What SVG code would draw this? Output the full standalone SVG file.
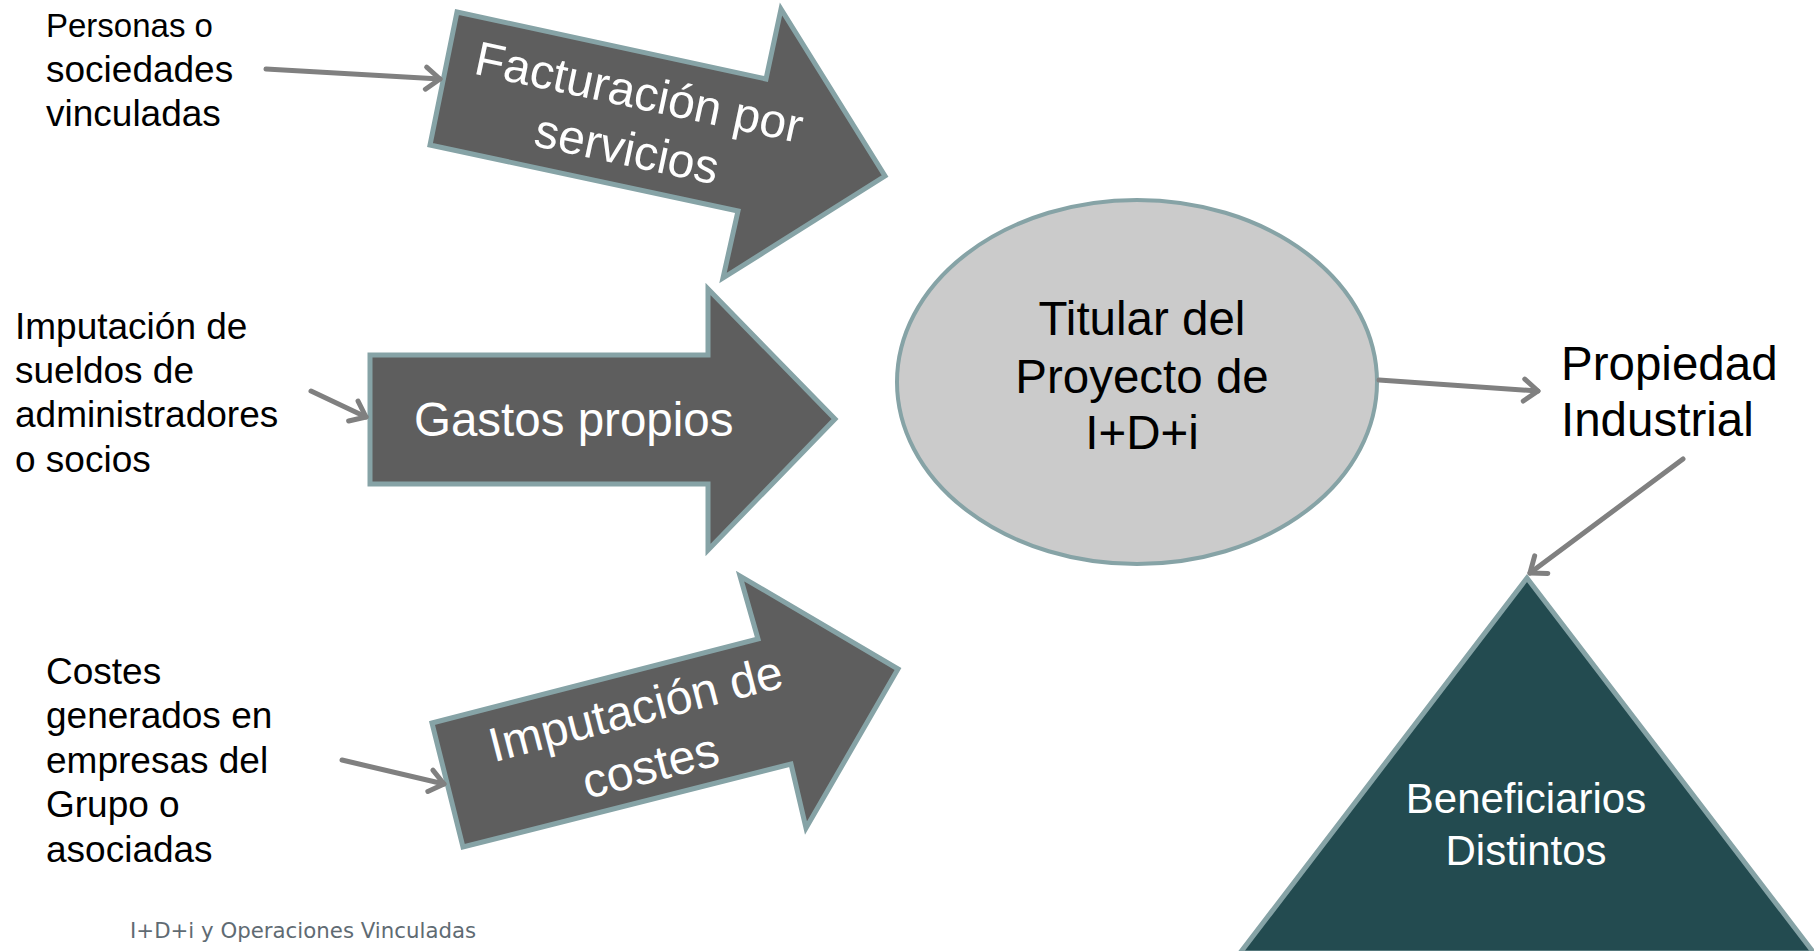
<svg xmlns="http://www.w3.org/2000/svg" width="1814" height="951" viewBox="0 0 1814 951">
<defs>
<style>
.blk{stroke:#86a3a6;stroke-width:5;stroke-linejoin:miter;fill:#5e5e5e}
.w{font-family:"Liberation Sans",Arial,sans-serif;fill:#ffffff}
.b{font-family:"Liberation Sans",Arial,sans-serif;fill:#000000}
.con{stroke:#808080;stroke-width:5;fill:none;stroke-linecap:round}
</style>
<marker id="chev" markerUnits="userSpaceOnUse" markerWidth="30" markerHeight="30" viewBox="0 0 30 30" refX="22" refY="15" orient="auto">
<path d="M8,4 L22,15 L8,26" fill="none" stroke="#808080" stroke-width="5" stroke-linecap="round" stroke-linejoin="round"/>
</marker>
</defs>
<rect width="1814" height="951" fill="#ffffff"/>

<g id="facturacion">
<polygon class="blk" points="457,12 766,79 781,9 885,176 723,278 738,211 430,145"/>
<g transform="rotate(12 633 121)">
<text class="w" font-size="48" text-anchor="middle" x="633" y="108">Facturación por</text>
<text class="w" font-size="48" text-anchor="middle" x="633" y="166">servicios</text>
</g>
</g>

<g id="gastos">
<polygon class="blk" points="370,355 708,355 708,289 835,419 708,550 708,484 370,484"/>
<text class="w" font-size="47.5" x="414" y="436">Gastos propios</text>
</g>

<g id="imputacion">
<polygon class="blk" points="432,723 758,639 740,576 898,669 806,828 791,764 463,847"/>
<g transform="rotate(-14.5 643 737)">
<text class="w" font-size="48" text-anchor="middle" x="643" y="724">Imputación de</text>
<text class="w" font-size="48" text-anchor="middle" x="643" y="783">costes</text>
</g>
</g>

<g id="titular">
<ellipse cx="1137" cy="382" rx="240" ry="182" fill="#cbcbcb" stroke="#86a3a6" stroke-width="4"/>
<text class="b" font-size="47.5" text-anchor="middle" x="1142" y="335">Titular del</text>
<text class="b" font-size="47.5" text-anchor="middle" x="1142" y="393">Proyecto de</text>
<text class="b" font-size="47.5" text-anchor="middle" x="1142" y="449">I+D+i</text>
</g>

<g id="propiedad">
<text class="b" font-size="47.5" x="1561" y="380">Propiedad</text>
<text class="b" font-size="47.5" x="1561" y="436">Industrial</text>
</g>

<g id="beneficiarios">
<polygon points="1527,578 1240,953 1814,953" fill="#234b50" stroke="#86a3a6" stroke-width="5"/>
<text class="w" font-size="42" text-anchor="middle" x="1526" y="813">Beneficiarios</text>
<text class="w" font-size="42" text-anchor="middle" x="1526" y="865">Distintos</text>
</g>

<g id="label-personas">
<text class="b" font-size="33" x="46" y="37">Personas o</text>
<text class="b" font-size="37" x="46" y="82">sociedades</text>
<text class="b" font-size="37" x="46" y="126">vinculadas</text>
</g>

<g id="label-sueldos">
<text class="b" font-size="37" x="15" y="339">Imputación de</text>
<text class="b" font-size="37" x="15" y="383">sueldos de</text>
<text class="b" font-size="37" x="15" y="427">administradores</text>
<text class="b" font-size="37" x="15" y="472">o socios</text>
</g>

<g id="label-costes">
<text class="b" font-size="37" x="46" y="684">Costes</text>
<text class="b" font-size="37" x="46" y="728">generados en</text>
<text class="b" font-size="37" x="46" y="773">empresas del</text>
<text class="b" font-size="37" x="46" y="817">Grupo o</text>
<text class="b" font-size="37" x="46" y="862">asociadas</text>
</g>

<g id="connectors">
<line class="con" x1="266" y1="69" x2="440" y2="79" marker-end="url(#chev)"/>
<line class="con" x1="311" y1="391" x2="366" y2="417" marker-end="url(#chev)"/>
<line class="con" x1="342" y1="760" x2="444" y2="784" marker-end="url(#chev)"/>
<line class="con" x1="1379" y1="380" x2="1538" y2="391" marker-end="url(#chev)"/>
<line class="con" x1="1683" y1="459" x2="1530" y2="573" marker-end="url(#chev)"/>
</g>

<text id="footer" x="130" y="938" font-family="'DejaVu Sans',Verdana,sans-serif" font-size="21.3" fill="#5f6b73">I+D+i y Operaciones Vinculadas</text>
</svg>
